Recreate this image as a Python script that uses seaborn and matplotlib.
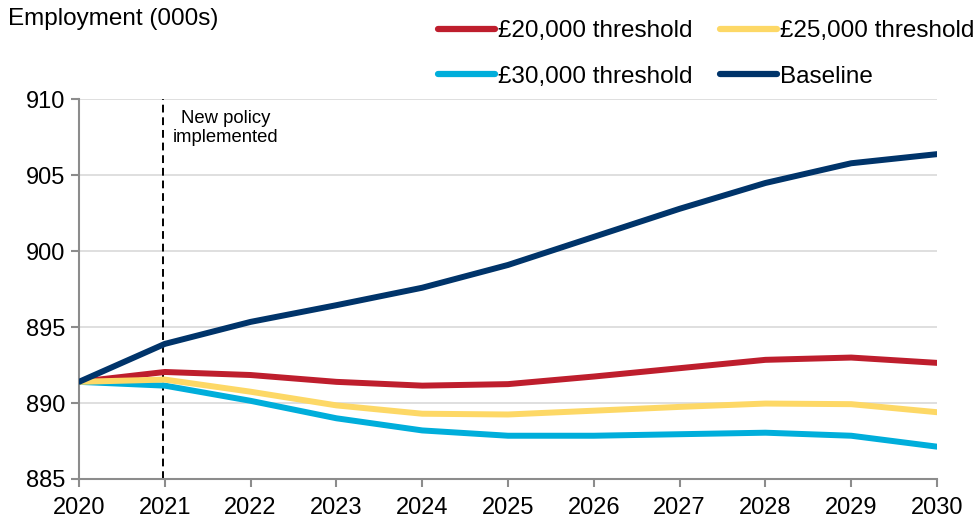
import matplotlib
matplotlib.use("Agg")
import matplotlib.pyplot as plt
import seaborn as sns
import pandas as pd

# Employment projections (thousands) by year
years = [2020, 2021, 2022, 2023, 2024, 2025, 2026, 2027, 2028, 2029, 2030]
threshold_20k = [891.4, 892.05, 891.85, 891.4, 891.15, 891.25, 891.75, 892.3, 892.85, 893.0, 892.65]
threshold_25k = [891.4, 891.55, 890.75, 889.85, 889.3, 889.25, 889.5, 889.75, 889.97, 889.93, 889.4]
threshold_30k = [891.4, 891.15, 890.15, 889.0, 888.2, 887.85, 887.85, 887.95, 888.05, 887.85, 887.13]
baseline = [891.4, 893.9, 895.35, 896.45, 897.6, 899.1, 900.95, 902.8, 904.5, 905.8, 906.4]

series_names = ["£20,000 threshold", "£30,000 threshold", "£25,000 threshold", "Baseline"]
series_values = [threshold_20k, threshold_30k, threshold_25k, baseline]
series_colors = ["#BE1E2D", "#00AEDB", "#FDD866", "#00346A"]

y_ticks = [885, 890, 895, 900, 905, 910]
policy_year = 2021

df = pd.DataFrame(
    [(y, v, name) for name, vals in zip(series_names, series_values) for y, v in zip(years, vals)],
    columns=["year", "employment", "series"],
)

sns.set_theme(style="white")
plt.rcParams["font.family"] = ["Liberation Sans", "DejaVu Sans"]
plt.rcParams["text.color"] = "black"
plt.rcParams["xtick.labelcolor"] = "black"
plt.rcParams["ytick.labelcolor"] = "black"

fig = plt.figure(figsize=(9.8, 5.22), dpi=100)
ax = fig.add_axes([79 / 980, 1 - 479 / 522, (937 - 79) / 980, (479 - 99.5) / 522])

for yt in y_ticks:
    ax.axhline(yt, color="#D9D9D9", lw=1.2, zorder=0)

ax.axvline(policy_year - 0.025, color="black", lw=1.4, ls=(0, (4, 2.5)), zorder=1)

sns.lineplot(
    data=df, x="year", y="employment", hue="series",
    hue_order=series_names, palette=dict(zip(series_names, series_colors)),
    lw=4.3, ax=ax, legend=False, zorder=3,
)
# keep the baseline above the threshold scenarios
ax.get_lines()[-1].set_zorder(4)

ax.set_xlim(2020, 2030)
ax.set_ylim(885, 910)
ax.set_xticks(years)
ax.set_yticks(y_ticks)
ax.set_xlabel("")
ax.set_ylabel("")

for side in ["top", "right"]:
    ax.spines[side].set_visible(False)
for side in ["left", "bottom"]:
    ax.spines[side].set_color("#8C8C8C")
    ax.spines[side].set_linewidth(1.5)
    ax.spines[side].set_zorder(2)

ax.tick_params(axis="both", which="major", direction="out", length=6, width=1.5,
               color="#8C8C8C", labelsize=17, labelcolor="black", pad=4,
               bottom=True, left=True)
ax.tick_params(axis="x", pad=7)

ax.text(2021.71, 909.3, "New policy\nimplemented", ha="center", va="top",
        fontsize=13.3, linespacing=1.15, color="black")

fig.text(8 / 980, 1 - 19 / 522, "Employment (000s)", ha="left", va="center",
         fontsize=17.5, color="black")

handles = [plt.Line2D([0], [0], color=c, lw=4.5, solid_capstyle="round") for c in series_colors]
leg = fig.legend(
    handles, series_names, loc="upper left", bbox_to_anchor=(438 / 980, 1 - 20 / 522),
    ncol=2, frameon=False, fontsize=17.5, handlelength=2.35, handletextpad=0.1,
    columnspacing=1.15, labelspacing=0.98, borderpad=0, borderaxespad=0,
)
for t in leg.get_texts():
    t.set_color("black")

fig.savefig("out.png", dpi=100)
